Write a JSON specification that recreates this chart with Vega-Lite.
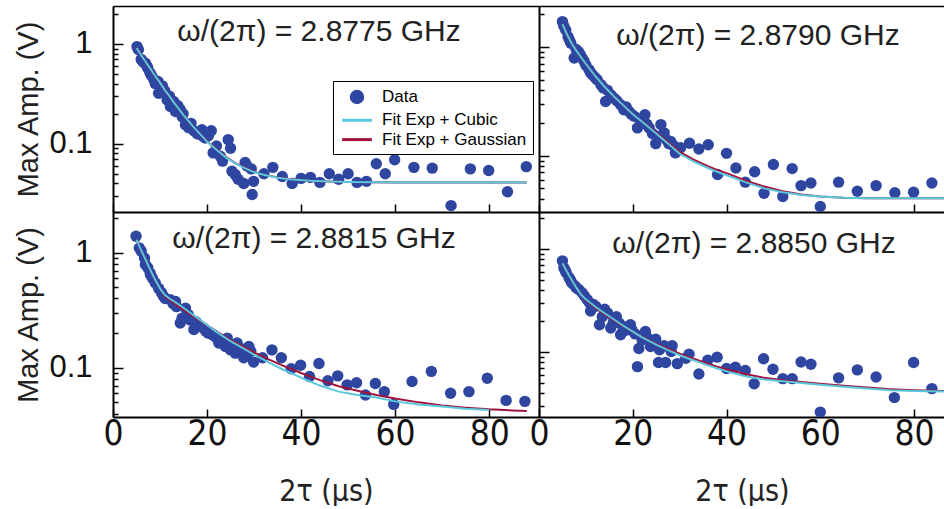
{
  "$schema": "https://vega.github.io/schema/vega-lite/v6.json",
  "background": "white",
  "padding": {"left": 14, "top": -3, "right": 0, "bottom": 0},
  "config": {
    "font": "Liberation Sans",
    "view": {"stroke": null},
    "axis": {"domainColor": "black", "domainWidth": 2, "tickColor": "black", "tickWidth": 1.5, "grid": false, "labelColor": "#111", "titleColor": "#222", "titleFontWeight": "normal", "labelFlush": false, "labelOverlap": false},
    "title": {"font": "Liberation Sans", "fontSize": 30, "fontWeight": "normal", "color": "#222", "baseline": "alphabetic", "anchor": "middle"}
  },
  "datasets": {
    "tl_pts": [
      {"x":5.1,"y":0.94,"s":"Data"},{"x":5.4,"y":0.88,"s":"Data"},{"x":6.0,"y":0.70,"s":"Data"},{"x":6.4,"y":0.66,"s":"Data"},{"x":6.9,"y":0.64,"s":"Data"},{"x":7.2,"y":0.60,"s":"Data"},{"x":7.4,"y":0.57,"s":"Data"},{"x":7.9,"y":0.51,"s":"Data"},{"x":8.2,"y":0.48,"s":"Data"},{"x":8.7,"y":0.44,"s":"Data"},{"x":9.0,"y":0.40,"s":"Data"},{"x":9.6,"y":0.42,"s":"Data"},{"x":9.7,"y":0.32,"s":"Data"},{"x":10.2,"y":0.36,"s":"Data"},{"x":10.5,"y":0.38,"s":"Data"},{"x":11.0,"y":0.34,"s":"Data"},{"x":11.5,"y":0.275,"s":"Data"},{"x":12.0,"y":0.30,"s":"Data"},{"x":12.2,"y":0.236,"s":"Data"},{"x":12.9,"y":0.265,"s":"Data"},{"x":13.3,"y":0.21,"s":"Data"},{"x":13.8,"y":0.24,"s":"Data"},{"x":14.3,"y":0.22,"s":"Data"},{"x":14.7,"y":0.187,"s":"Data"},{"x":14.9,"y":0.20,"s":"Data"},{"x":15.4,"y":0.155,"s":"Data"},{"x":16.1,"y":0.145,"s":"Data"},{"x":16.6,"y":0.16,"s":"Data"},{"x":17.2,"y":0.135,"s":"Data"},{"x":17.9,"y":0.126,"s":"Data"},{"x":18.3,"y":0.125,"s":"Data"},{"x":18.9,"y":0.138,"s":"Data"},{"x":19.2,"y":0.118,"s":"Data"},{"x":19.6,"y":0.114,"s":"Data"},{"x":20.3,"y":0.12,"s":"Data"},{"x":20.9,"y":0.135,"s":"Data"},{"x":21.3,"y":0.081,"s":"Data"},{"x":22.0,"y":0.095,"s":"Data"},{"x":22.8,"y":0.075,"s":"Data"},{"x":23.3,"y":0.067,"s":"Data"},{"x":24.5,"y":0.11,"s":"Data"},{"x":25.0,"y":0.09,"s":"Data"},{"x":25.3,"y":0.053,"s":"Data"},{"x":26.0,"y":0.049,"s":"Data"},{"x":26.6,"y":0.044,"s":"Data"},{"x":27.8,"y":0.040,"s":"Data"},{"x":28.1,"y":0.065,"s":"Data"},{"x":28.5,"y":0.06,"s":"Data"},{"x":29.4,"y":0.056,"s":"Data"},{"x":29.6,"y":0.031,"s":"Data"},{"x":29.9,"y":0.042,"s":"Data"},{"x":32.1,"y":0.050,"s":"Data"},{"x":34.0,"y":0.058,"s":"Data"},{"x":36.0,"y":0.047,"s":"Data"},{"x":38.1,"y":0.040,"s":"Data"},{"x":40.0,"y":0.045,"s":"Data"},{"x":42.0,"y":0.046,"s":"Data"},{"x":44.0,"y":0.041,"s":"Data"},{"x":46.0,"y":0.050,"s":"Data"},{"x":48.0,"y":0.044,"s":"Data"},{"x":50.0,"y":0.050,"s":"Data"},{"x":51.9,"y":0.041,"s":"Data"},{"x":53.9,"y":0.042,"s":"Data"},{"x":56.0,"y":0.063,"s":"Data"},{"x":57.9,"y":0.050,"s":"Data"},{"x":59.9,"y":0.069,"s":"Data"},{"x":64.0,"y":0.058,"s":"Data"},{"x":67.9,"y":0.057,"s":"Data"},{"x":71.9,"y":0.024,"s":"Data"},{"x":76.0,"y":0.056,"s":"Data"},{"x":79.9,"y":0.054,"s":"Data"},{"x":83.9,"y":0.033,"s":"Data"},{"x":87.9,"y":0.059,"s":"Data"}
    ],
    "tl_fit_g": [
      {"x":5,"y":0.91,"s":"Fit Exp + Gaussian"},{"x":6,"y":0.77,"s":"Fit Exp + Gaussian"},{"x":7,"y":0.655,"s":"Fit Exp + Gaussian"},{"x":8,"y":0.56,"s":"Fit Exp + Gaussian"},{"x":9,"y":0.475,"s":"Fit Exp + Gaussian"},{"x":10,"y":0.41,"s":"Fit Exp + Gaussian"},{"x":11,"y":0.347,"s":"Fit Exp + Gaussian"},{"x":12,"y":0.30,"s":"Fit Exp + Gaussian"},{"x":13,"y":0.257,"s":"Fit Exp + Gaussian"},{"x":14,"y":0.223,"s":"Fit Exp + Gaussian"},{"x":15,"y":0.194,"s":"Fit Exp + Gaussian"},{"x":16,"y":0.17,"s":"Fit Exp + Gaussian"},{"x":17,"y":0.149,"s":"Fit Exp + Gaussian"},{"x":18,"y":0.133,"s":"Fit Exp + Gaussian"},{"x":20,"y":0.106,"s":"Fit Exp + Gaussian"},{"x":22,"y":0.088,"s":"Fit Exp + Gaussian"},{"x":24,"y":0.074,"s":"Fit Exp + Gaussian"},{"x":26,"y":0.064,"s":"Fit Exp + Gaussian"},{"x":28,"y":0.0575,"s":"Fit Exp + Gaussian"},{"x":30,"y":0.0525,"s":"Fit Exp + Gaussian"},{"x":32,"y":0.049,"s":"Fit Exp + Gaussian"},{"x":35,"y":0.046,"s":"Fit Exp + Gaussian"},{"x":38,"y":0.044,"s":"Fit Exp + Gaussian"},{"x":42,"y":0.0425,"s":"Fit Exp + Gaussian"},{"x":46,"y":0.0418,"s":"Fit Exp + Gaussian"},{"x":50,"y":0.0413,"s":"Fit Exp + Gaussian"},{"x":60,"y":0.041,"s":"Fit Exp + Gaussian"},{"x":70,"y":0.041,"s":"Fit Exp + Gaussian"},{"x":88,"y":0.041,"s":"Fit Exp + Gaussian"}
    ],
    "tl_fit_c": [
      {"x":5,"y":0.91,"s":"Fit Exp + Cubic"},{"x":6,"y":0.77,"s":"Fit Exp + Cubic"},{"x":7,"y":0.655,"s":"Fit Exp + Cubic"},{"x":8,"y":0.56,"s":"Fit Exp + Cubic"},{"x":9,"y":0.475,"s":"Fit Exp + Cubic"},{"x":10,"y":0.41,"s":"Fit Exp + Cubic"},{"x":11,"y":0.347,"s":"Fit Exp + Cubic"},{"x":12,"y":0.30,"s":"Fit Exp + Cubic"},{"x":13,"y":0.257,"s":"Fit Exp + Cubic"},{"x":14,"y":0.223,"s":"Fit Exp + Cubic"},{"x":15,"y":0.194,"s":"Fit Exp + Cubic"},{"x":16,"y":0.17,"s":"Fit Exp + Cubic"},{"x":17,"y":0.149,"s":"Fit Exp + Cubic"},{"x":18,"y":0.133,"s":"Fit Exp + Cubic"},{"x":20,"y":0.105,"s":"Fit Exp + Cubic"},{"x":22,"y":0.087,"s":"Fit Exp + Cubic"},{"x":24,"y":0.073,"s":"Fit Exp + Cubic"},{"x":26,"y":0.0636,"s":"Fit Exp + Cubic"},{"x":28,"y":0.057,"s":"Fit Exp + Cubic"},{"x":30,"y":0.052,"s":"Fit Exp + Cubic"},{"x":32,"y":0.049,"s":"Fit Exp + Cubic"},{"x":35,"y":0.0457,"s":"Fit Exp + Cubic"},{"x":38,"y":0.0438,"s":"Fit Exp + Cubic"},{"x":42,"y":0.0425,"s":"Fit Exp + Cubic"},{"x":46,"y":0.0418,"s":"Fit Exp + Cubic"},{"x":50,"y":0.0413,"s":"Fit Exp + Cubic"},{"x":60,"y":0.041,"s":"Fit Exp + Cubic"},{"x":70,"y":0.041,"s":"Fit Exp + Cubic"},{"x":88,"y":0.041,"s":"Fit Exp + Cubic"}
    ],
    "tr_pts": [
      {"x":5.0,"y":1.71},{"x":5.3,"y":1.55},{"x":5.7,"y":1.43},{"x":6.2,"y":1.24},{"x":6.5,"y":1.15},{"x":6.8,"y":1.08},{"x":7.5,"y":0.79},{"x":7.9,"y":0.95},{"x":8.4,"y":0.905},{"x":8.8,"y":0.85},{"x":9.2,"y":0.79},{"x":9.6,"y":0.74},{"x":10.0,"y":0.68},{"x":10.7,"y":0.615},{"x":11.0,"y":0.58},{"x":11.4,"y":0.553},{"x":12.0,"y":0.52},{"x":12.4,"y":0.50},{"x":13.2,"y":0.45},{"x":13.7,"y":0.42},{"x":14.2,"y":0.315},{"x":14.6,"y":0.40},{"x":15.3,"y":0.363},{"x":16.0,"y":0.338},{"x":16.6,"y":0.32},{"x":17.4,"y":0.294},{"x":18.1,"y":0.264},{"x":18.6,"y":0.28},{"x":19.2,"y":0.255},{"x":19.7,"y":0.24},{"x":20.3,"y":0.23},{"x":21.0,"y":0.18},{"x":21.5,"y":0.215},{"x":22.3,"y":0.21},{"x":22.6,"y":0.238},{"x":23.0,"y":0.195},{"x":23.5,"y":0.18},{"x":24.2,"y":0.16},{"x":24.9,"y":0.129},{"x":25.4,"y":0.15},{"x":26.0,"y":0.193},{"x":26.7,"y":0.162},{"x":27.2,"y":0.14},{"x":27.7,"y":0.129},{"x":28.1,"y":0.135},{"x":28.6,"y":0.125},{"x":29.1,"y":0.106},{"x":30.2,"y":0.118},{"x":32.1,"y":0.13},{"x":34.1,"y":0.115},{"x":36.1,"y":0.126},{"x":38.1,"y":0.067},{"x":40.0,"y":0.105},{"x":42.0,"y":0.077},{"x":44.0,"y":0.057},{"x":46.0,"y":0.071},{"x":48.0,"y":0.045},{"x":50.0,"y":0.083},{"x":52.0,"y":0.042},{"x":54.0,"y":0.076},{"x":55.9,"y":0.053},{"x":58.0,"y":0.056},{"x":60.0,"y":0.034},{"x":63.9,"y":0.057},{"x":67.9,"y":0.047},{"x":71.9,"y":0.053},{"x":75.9,"y":0.0455},{"x":79.9,"y":0.046},{"x":83.8,"y":0.056}
    ],
    "tr_fit_g": [
      {"x":5,"y":1.62},{"x":6,"y":1.3},{"x":7,"y":1.07},{"x":8,"y":0.92},{"x":9,"y":0.80},{"x":10,"y":0.70},{"x":12,"y":0.54},{"x":14,"y":0.43},{"x":16,"y":0.35},{"x":18,"y":0.29},{"x":20,"y":0.24},{"x":22,"y":0.206},{"x":25,"y":0.163},{"x":28,"y":0.128},{"x":30,"y":0.108},{"x":33,"y":0.092},{"x":36,"y":0.080},{"x":38,"y":0.074},{"x":40,"y":0.069},{"x":44,"y":0.059},{"x":48,"y":0.052},{"x":52,"y":0.047},{"x":56,"y":0.044},{"x":60,"y":0.042},{"x":65,"y":0.041},{"x":70,"y":0.0405},{"x":80,"y":0.0405},{"x":88,"y":0.0405}
    ],
    "tr_fit_c": [
      {"x":5,"y":1.62},{"x":6,"y":1.3},{"x":7,"y":1.07},{"x":8,"y":0.92},{"x":9,"y":0.80},{"x":10,"y":0.70},{"x":12,"y":0.54},{"x":14,"y":0.43},{"x":16,"y":0.35},{"x":18,"y":0.29},{"x":20,"y":0.24},{"x":22,"y":0.205},{"x":25,"y":0.16},{"x":28,"y":0.124},{"x":30,"y":0.104},{"x":33,"y":0.088},{"x":36,"y":0.077},{"x":38,"y":0.071},{"x":40,"y":0.066},{"x":44,"y":0.057},{"x":48,"y":0.050},{"x":52,"y":0.046},{"x":56,"y":0.0435},{"x":60,"y":0.042},{"x":65,"y":0.041},{"x":70,"y":0.0405},{"x":80,"y":0.0405},{"x":88,"y":0.0405}
    ],
    "bl_pts": [
      {"x":4.9,"y":1.39},{"x":5.6,"y":1.10},{"x":6.0,"y":1.03},{"x":6.7,"y":0.90},{"x":6.9,"y":0.79},{"x":7.4,"y":0.74},{"x":7.9,"y":0.665},{"x":8.0,"y":0.64},{"x":8.4,"y":0.60},{"x":9.0,"y":0.545},{"x":9.7,"y":0.49},{"x":10.3,"y":0.45},{"x":10.7,"y":0.42},{"x":11.1,"y":0.40},{"x":12.2,"y":0.39},{"x":12.8,"y":0.36},{"x":13.3,"y":0.377},{"x":13.5,"y":0.34},{"x":14.3,"y":0.245},{"x":14.7,"y":0.27},{"x":15.4,"y":0.33},{"x":16.0,"y":0.29},{"x":16.4,"y":0.26},{"x":17.2,"y":0.215},{"x":17.7,"y":0.25},{"x":18.2,"y":0.237},{"x":19.3,"y":0.22},{"x":19.8,"y":0.207},{"x":20.3,"y":0.20},{"x":21.1,"y":0.194},{"x":21.8,"y":0.185},{"x":22.5,"y":0.164},{"x":23.2,"y":0.175},{"x":23.9,"y":0.153},{"x":24.3,"y":0.181},{"x":24.8,"y":0.16},{"x":25.0,"y":0.143},{"x":26.0,"y":0.134},{"x":26.4,"y":0.164},{"x":27.1,"y":0.148},{"x":27.5,"y":0.135},{"x":27.8,"y":0.122},{"x":28.5,"y":0.128},{"x":28.9,"y":0.153},{"x":29.3,"y":0.139},{"x":29.9,"y":0.112},{"x":31.8,"y":0.122},{"x":33.8,"y":0.143},{"x":35.8,"y":0.122},{"x":37.9,"y":0.098},{"x":39.9,"y":0.105},{"x":41.8,"y":0.084},{"x":43.8,"y":0.109},{"x":45.7,"y":0.077},{"x":47.8,"y":0.085},{"x":49.8,"y":0.071},{"x":51.8,"y":0.074},{"x":53.7,"y":0.058},{"x":55.8,"y":0.073},{"x":57.7,"y":0.062},{"x":59.7,"y":0.048},{"x":63.6,"y":0.076},{"x":67.7,"y":0.093},{"x":71.8,"y":0.060},{"x":75.7,"y":0.062},{"x":79.6,"y":0.081},{"x":83.6,"y":0.052},{"x":87.6,"y":0.051}
    ],
    "bl_fit_g": [
      {"x":5,"y":1.30},{"x":6,"y":1.05},{"x":7,"y":0.86},{"x":8,"y":0.70},{"x":9,"y":0.58},{"x":10,"y":0.49},{"x":11,"y":0.42},{"x":12,"y":0.39},{"x":14,"y":0.34},{"x":16,"y":0.30},{"x":18,"y":0.265},{"x":20,"y":0.235},{"x":22,"y":0.207},{"x":25,"y":0.174},{"x":28,"y":0.15},{"x":30,"y":0.136},{"x":33,"y":0.119},{"x":36,"y":0.105},{"x":40,"y":0.09},{"x":44,"y":0.078},{"x":48,"y":0.069},{"x":52,"y":0.063},{"x":56,"y":0.058},{"x":60,"y":0.054},{"x":65,"y":0.050},{"x":70,"y":0.047},{"x":75,"y":0.045},{"x":80,"y":0.0435},{"x":85,"y":0.0425},{"x":88,"y":0.042}
    ],
    "bl_fit_c": [
      {"x":5,"y":1.30},{"x":6,"y":1.05},{"x":7,"y":0.86},{"x":8,"y":0.70},{"x":9,"y":0.58},{"x":10,"y":0.49},{"x":11,"y":0.43},{"x":12,"y":0.40},{"x":14,"y":0.355},{"x":16,"y":0.31},{"x":18,"y":0.27},{"x":20,"y":0.235},{"x":22,"y":0.205},{"x":25,"y":0.17},{"x":28,"y":0.145},{"x":30,"y":0.13},{"x":33,"y":0.112},{"x":36,"y":0.097},{"x":40,"y":0.082},{"x":44,"y":0.070},{"x":48,"y":0.062},{"x":52,"y":0.058},{"x":56,"y":0.055},{"x":60,"y":0.051},{"x":65,"y":0.048},{"x":70,"y":0.046},{"x":75,"y":0.044},{"x":80,"y":0.043}
    ],
    "br_pts": [
      {"x":5.0,"y":0.77},{"x":5.3,"y":0.66},{"x":5.6,"y":0.62},{"x":5.8,"y":0.59},{"x":6.4,"y":0.53},{"x":6.7,"y":0.50},{"x":7.0,"y":0.47},{"x":7.7,"y":0.437},{"x":8.0,"y":0.42},{"x":8.5,"y":0.406},{"x":9.2,"y":0.377},{"x":9.7,"y":0.35},{"x":10.3,"y":0.323},{"x":10.8,"y":0.30},{"x":11.0,"y":0.25},{"x":11.6,"y":0.29},{"x":12.1,"y":0.278},{"x":12.9,"y":0.184},{"x":13.5,"y":0.22},{"x":14.0,"y":0.26},{"x":14.6,"y":0.24},{"x":15.3,"y":0.171},{"x":15.8,"y":0.19},{"x":16.0,"y":0.213},{"x":16.5,"y":0.22},{"x":17.1,"y":0.191},{"x":17.4,"y":0.147},{"x":17.9,"y":0.158},{"x":18.3,"y":0.175},{"x":18.8,"y":0.164},{"x":19.5,"y":0.184},{"x":19.8,"y":0.164},{"x":20.5,"y":0.15},{"x":21.0,"y":0.072},{"x":21.3,"y":0.108},{"x":22.0,"y":0.131},{"x":22.7,"y":0.158},{"x":23.0,"y":0.14},{"x":23.8,"y":0.113},{"x":24.3,"y":0.125},{"x":24.9,"y":0.133},{"x":25.5,"y":0.079},{"x":25.7,"y":0.105},{"x":26.7,"y":0.115},{"x":27.0,"y":0.079},{"x":28.2,"y":0.101},{"x":28.4,"y":0.115},{"x":29.5,"y":0.077},{"x":31.3,"y":0.087},{"x":32.0,"y":0.095},{"x":34.1,"y":0.061},{"x":36.0,"y":0.083},{"x":38.0,"y":0.089},{"x":40.0,"y":0.069},{"x":41.9,"y":0.071},{"x":44.0,"y":0.066},{"x":45.9,"y":0.049},{"x":47.9,"y":0.086},{"x":49.9,"y":0.068},{"x":52.0,"y":0.055},{"x":54.0,"y":0.055},{"x":55.9,"y":0.080},{"x":58.0,"y":0.076},{"x":60.0,"y":0.026},{"x":63.9,"y":0.056},{"x":67.9,"y":0.067},{"x":71.9,"y":0.057},{"x":75.8,"y":0.036},{"x":79.9,"y":0.079},{"x":83.8,"y":0.044}
    ],
    "br_fit_g": [
      {"x":5,"y":0.73},{"x":6,"y":0.60},{"x":7,"y":0.50},{"x":8,"y":0.42},{"x":9,"y":0.36},{"x":10,"y":0.32},{"x":12,"y":0.27},{"x":14,"y":0.232},{"x":16,"y":0.203},{"x":18,"y":0.178},{"x":20,"y":0.157},{"x":22,"y":0.14},{"x":25,"y":0.12},{"x":28,"y":0.105},{"x":30,"y":0.096},{"x":32,"y":0.089},{"x":35,"y":0.080},{"x":38,"y":0.072},{"x":41,"y":0.066},{"x":44,"y":0.061},{"x":48,"y":0.056},{"x":52,"y":0.053},{"x":56,"y":0.051},{"x":60,"y":0.049},{"x":65,"y":0.047},{"x":70,"y":0.045},{"x":75,"y":0.0435},{"x":80,"y":0.0425},{"x":88,"y":0.0415}
    ],
    "br_fit_c": [
      {"x":5,"y":0.73},{"x":6,"y":0.60},{"x":7,"y":0.50},{"x":8,"y":0.42},{"x":9,"y":0.36},{"x":10,"y":0.325},{"x":12,"y":0.275},{"x":14,"y":0.238},{"x":16,"y":0.207},{"x":18,"y":0.18},{"x":20,"y":0.158},{"x":22,"y":0.139},{"x":25,"y":0.118},{"x":28,"y":0.102},{"x":30,"y":0.093},{"x":32,"y":0.086},{"x":35,"y":0.077},{"x":38,"y":0.069},{"x":41,"y":0.063},{"x":44,"y":0.058},{"x":48,"y":0.054},{"x":52,"y":0.052},{"x":56,"y":0.050},{"x":60,"y":0.048},{"x":65,"y":0.046},{"x":70,"y":0.044},{"x":75,"y":0.0425},{"x":80,"y":0.0418},{"x":88,"y":0.041}
    ]
  },
  "concat": [
    {
      "width": 426, "height": 206,
      "title": {"text": "ω/(2π) = 2.8775 GHz", "offset": -49, "dx": -7},
      "encoding": {
        "y": {"field": "y", "type": "quantitative", "scale": {"type": "log", "domain": [0.0207, 2.4], "nice": false}, "axis": {"values": [0.03,0.04,0.05,0.06,0.07,0.08,0.09,0.1,0.2,0.3,0.4,0.5,0.6,0.7,0.8,0.9,1,2], "labelExpr": "datum.value === 1 ? '1' : datum.value === 0.1 ? '0.1' : ''", "tickSize": {"condition": {"test": "datum.value === 1 || datum.value === 0.1", "value": -10}, "value": -5}, "labelPadding": 31, "labelFontSize": 31, "title": "Max Amp. (V)", "titleFontSize": 29, "titlePadding": 5}},
        "color": {"field": "s", "type": "nominal", "scale": {"domain": ["Data", "Fit Exp + Cubic", "Fit Exp + Gaussian"], "range": ["#2f46a1", "#5ac8dc", "#a0143c"]},
          "legend": {"title": null, "orient": "none", "legendX": 220, "legendY": 75, "strokeColor": "black", "fillColor": "white", "padding": 6, "labelFontSize": 17, "labelFont": "Liberation Sans", "labelColor": "black", "symbolSize": 289, "symbolOffset": 8, "labelOffset": 15, "rowPadding": 1.3,
            "encode": {"symbols": {"update": {
              "shape": {"signal": "datum.value === 'Data' ? 'circle' : 'M-1.75,0H1.75'"},
              "size": {"signal": "datum.value === 'Data' ? 132 : 289"},
              "strokeWidth": {"value": 3},
              "opacity": {"value": 1},
              "fill": {"signal": "datum.value === 'Data' ? '#2f46a1' : 'transparent'"},
              "stroke": {"signal": "datum.value === 'Data' ? 'transparent' : datum.value === 'Fit Exp + Cubic' ? '#5ac8dc' : '#a0143c'"}
            }}}}
        }
      },
      "layer": [
        {"data": {"name": "tl_pts"}, "mark": {"type": "point", "filled": true, "size": 130, "opacity": 1, "clip": true},
         "encoding": {"x": {"field": "x", "type": "quantitative", "scale": {"domain": [0, 90.6], "nice": false, "zero": false}, "axis": {"values": [0, 20, 40, 60, 80], "tickSize": -8, "labels": false, "title": null}}}},
        {"data": {"name": "tl_fit_g"}, "mark": {"type": "line", "strokeWidth": 2, "clip": true},
         "encoding": {"x": {"field": "x", "type": "quantitative", "axis": {"orient": "top", "labels": false, "ticks": false, "title": null, "domainWidth": 1.5}}}},
        {"data": {"name": "tl_fit_c"}, "mark": {"type": "line", "strokeWidth": 2, "clip": true},
         "encoding": {"x": {"field": "x", "type": "quantitative", "axis": null}}}
      ],
      "resolve": {"axis": {"x": "independent"}}
    },
    {
      "width": 406, "height": 206,
      "title": {"text": "ω/(2π) = 2.8790 GHz", "offset": -45, "dx": 16},
      "encoding": {
        "y": {"field": "y", "type": "quantitative", "scale": {"type": "log", "domain": [0.0303, 2.38], "nice": false}, "axis": {"values": [0.04,0.05,0.06,0.07,0.08,0.09,0.1,0.2,0.3,0.4,0.5,0.6,0.7,0.8,0.9,1,2], "labels": false, "tickSize": {"condition": {"test": "datum.value === 1 || datum.value === 0.1", "value": -10}, "value": -5}, "title": null}}
      },
      "layer": [
        {"data": {"name": "tr_pts"}, "mark": {"type": "point", "filled": true, "size": 130, "opacity": 1, "color": "#2f46a1", "clip": true},
         "encoding": {"x": {"field": "x", "type": "quantitative", "scale": {"domain": [0, 86.6], "nice": false, "zero": false}, "axis": {"values": [0, 20, 40, 60, 80], "tickSize": -8, "labels": false, "title": null}}}},
        {"data": {"name": "tr_fit_g"}, "mark": {"type": "line", "strokeWidth": 2, "color": "#a0143c", "clip": true},
         "encoding": {"x": {"field": "x", "type": "quantitative", "axis": {"orient": "top", "labels": false, "ticks": false, "title": null, "domainWidth": 1.5}}}},
        {"data": {"name": "tr_fit_c"}, "mark": {"type": "line", "strokeWidth": 2, "color": "#5ac8dc", "clip": true},
         "encoding": {"x": {"field": "x", "type": "quantitative", "axis": null}}}
      ],
      "resolve": {"axis": {"x": "independent"}}
    },
    {
      "width": 426, "height": 205,
      "title": {"text": "ω/(2π) = 2.8815 GHz", "offset": -52, "dx": -12},
      "encoding": {
        "x": {"field": "x", "type": "quantitative", "scale": {"domain": [0, 90.6], "nice": false, "zero": false}, "axis": {"values": [0, 20, 40, 60, 80], "tickSize": -8, "labelPadding": 7, "labelFont": "Liberation Sans Narrow, DejaVu Sans Condensed, Liberation Sans", "labelFontSize": 35, "title": "2τ (μs)", "titleFont": "Liberation Sans Narrow, DejaVu Sans Condensed, Liberation Sans", "titleFontSize": 30, "titlePadding": 25}},
        "y": {"field": "y", "type": "quantitative", "scale": {"type": "log", "domain": [0.0373, 2.26], "nice": false}, "axis": {"values": [0.04,0.05,0.06,0.07,0.08,0.09,0.1,0.2,0.3,0.4,0.5,0.6,0.7,0.8,0.9,1,2], "labelExpr": "datum.value === 1 ? '1' : datum.value === 0.1 ? '0.1' : ''", "tickSize": {"condition": {"test": "datum.value === 1 || datum.value === 0.1", "value": -10}, "value": -5}, "labelPadding": 31, "labelFontSize": 31, "title": "Max Amp. (V)", "titleFontSize": 29, "titlePadding": 5}}
      },
      "layer": [
        {"data": {"name": "bl_pts"}, "mark": {"type": "point", "filled": true, "size": 130, "opacity": 1, "color": "#2f46a1", "clip": true}},
        {"data": {"name": "bl_fit_g"}, "mark": {"type": "line", "strokeWidth": 2, "color": "#a0143c", "clip": true}},
        {"data": {"name": "bl_fit_c"}, "mark": {"type": "line", "strokeWidth": 2, "color": "#5ac8dc", "clip": true}}
      ]
    },
    {
      "width": 406, "height": 205,
      "title": {"text": "ω/(2π) = 2.8850 GHz", "offset": -47, "dx": 12},
      "encoding": {
        "x": {"field": "x", "type": "quantitative", "scale": {"domain": [0, 86.6], "nice": false, "zero": false}, "axis": {"values": [0, 20, 40, 60, 80], "tickSize": -8, "labelPadding": 7, "labelFont": "Liberation Sans Narrow, DejaVu Sans Condensed, Liberation Sans", "labelFontSize": 35, "title": "2τ (μs)", "titleFont": "Liberation Sans Narrow, DejaVu Sans Condensed, Liberation Sans", "titleFontSize": 30, "titlePadding": 25}},
        "y": {"field": "y", "type": "quantitative", "scale": {"type": "log", "domain": [0.0233, 2.3], "nice": false}, "axis": {"values": [0.03,0.04,0.05,0.06,0.07,0.08,0.09,0.1,0.2,0.3,0.4,0.5,0.6,0.7,0.8,0.9,1,2], "labels": false, "tickSize": {"condition": {"test": "datum.value === 1 || datum.value === 0.1", "value": -10}, "value": -5}, "title": null}}
      },
      "layer": [
        {"data": {"name": "br_pts"}, "mark": {"type": "point", "filled": true, "size": 130, "opacity": 1, "color": "#2f46a1", "clip": true}},
        {"data": {"name": "br_fit_g"}, "mark": {"type": "line", "strokeWidth": 2, "color": "#a0143c", "clip": true}},
        {"data": {"name": "br_fit_c"}, "mark": {"type": "line", "strokeWidth": 2, "color": "#5ac8dc", "clip": true}}
      ]
    }
  ],
  "columns": 2,
  "spacing": 0,
  "bounds": "flush",
  "resolve": {"scale": {"color": "independent", "x": "independent", "y": "independent"}}
}
